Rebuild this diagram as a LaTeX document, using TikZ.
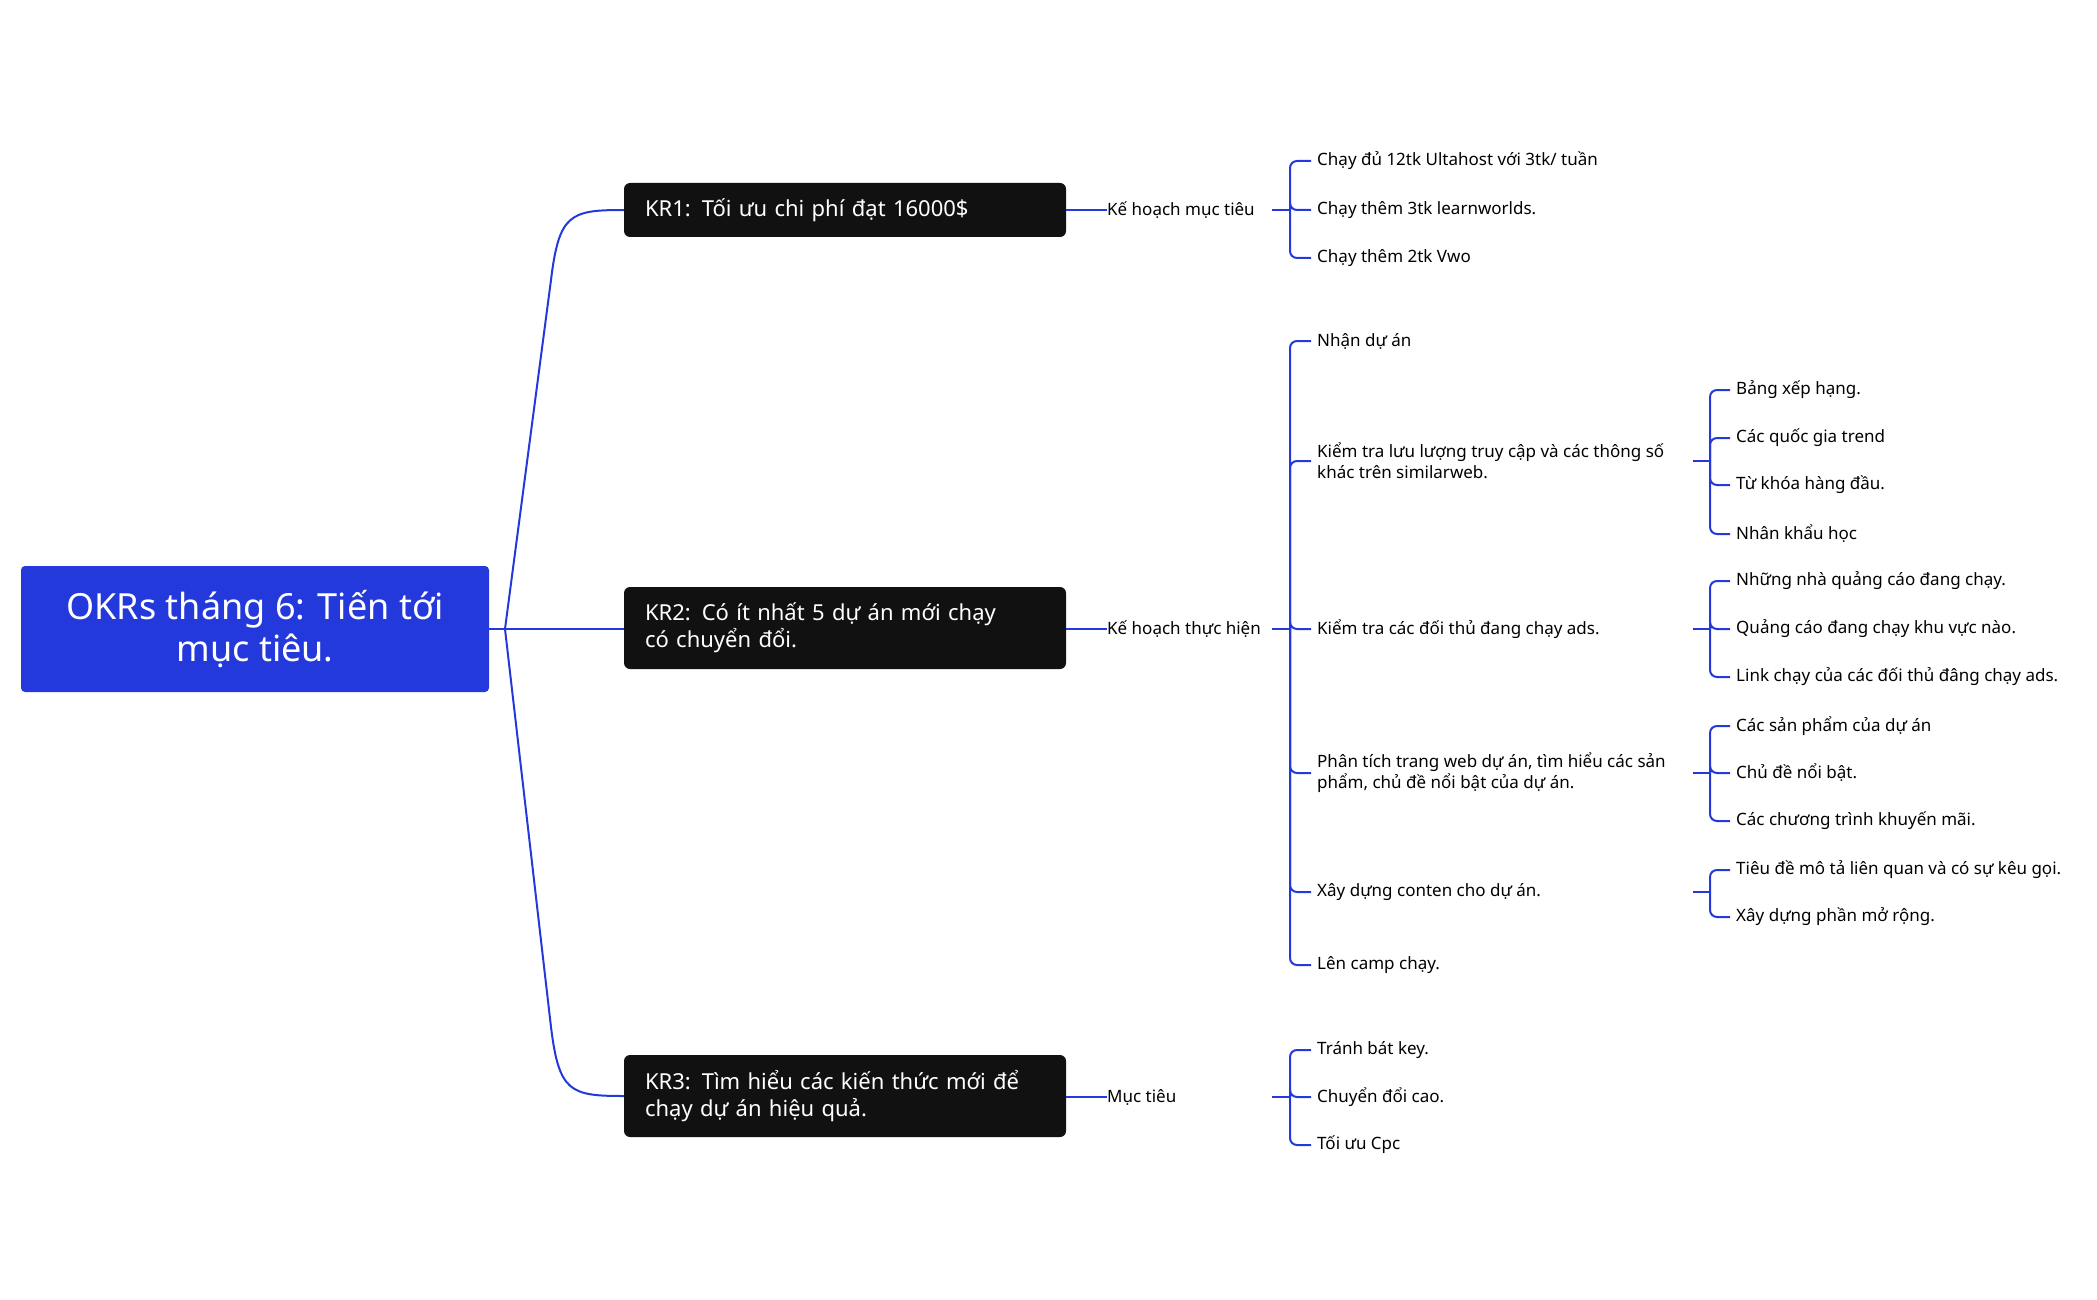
\documentclass[tikz,border=0pt]{standalone}
\usepackage{fontspec}
\setmainfont{Noto Sans}
\usepackage{tikz}
\usepackage{xcolor}
\definecolor{okblue}{HTML}{2439DB}
\definecolor{krblack}{HTML}{111111}

\begin{document}
\begin{tikzpicture}[x=1pt,y=-1pt,
            rootbox/.style={rectangle, fill=okblue, text=white, rounded corners=4pt, minimum width=468pt, minimum height=126pt, align=center, font=\fontsize{36}{42}\selectfont\bfseries},
            krbox/.style={rectangle, fill=krblack, text=white, rounded corners=6pt, text width=400pt, inner xsep=21pt, align=left, font=\fontsize{22}{27}\selectfont\bfseries},
            plan/.style={anchor=west, inner sep=0pt, font=\fontsize{17}{21}\selectfont},
            leaf/.style={anchor=west, inner sep=0pt, align=left, font=\fontsize{17}{21}\selectfont},
            link/.style={draw=okblue, line width=2pt},
            bracket/.style={link, rounded corners=7pt}
        ]
            \useasboundingbox (0,0) rectangle (2097,1300);

            % Root and key results
            \node[rootbox] (root) at (255,629) {OKRs tháng 6: Tiến tới\\mục tiêu.};
            \node[krbox, minimum height=54pt] (kr1) at (845,210) {KR1: Tối ưu chi phí đạt 16000\$};
            \node[krbox, minimum height=82pt] (kr2) at (845,628) {KR2: Có ít nhất 5 dự án mới chạy\\có chuyển đổi.};
            \node[krbox, minimum height=82pt] (kr3) at (845,1096) {KR3: Tìm hiểu các kiến thức mới để\\chạy dự án hiệu quả.};

            % Curved links from the root
            \coordinate (rhub) at (505,629);
            \draw[link] (root.east) -- (rhub);
            \draw[link] (rhub) -- (551,280) .. controls (559,214) and (570,210) .. (kr1.west);
            \draw[link] (rhub) -- (kr2.west |- rhub);
            \draw[link] (rhub) -- (551,1027) .. controls (559,1092) and (570,1096) .. (kr3.west);

            % Plan labels
            \node[plan] (p1) at (1107,210) {Kế hoạch mục tiêu};
            \node[plan] (p2) at (1107,629) {Kế hoạch thực hiện};
            \node[plan] (p3) at (1107,1097) {Mục tiêu};
            \draw[link] (kr1.east) -- (p1.west);
            \draw[link] (kr2.east |- p2) -- (p2.west);
            \draw[link] (kr3.east |- p3) -- (p3.west);

            % KR1 leaves
            \coordinate (hub1) at (1290,210);
            \draw[link] (1272,210) -- (hub1);
            \foreach \y/\t [count=\i] in {161/{Chạy đủ 12tk Ultahost với 3tk/ tuần}, 210/{Chạy thêm 3tk learnworlds.}, 258/{Chạy thêm 2tk Vwo}} {
                \node[leaf] (a\i) at (1317,\y) {\t};
                \draw[bracket] (hub1) |- ([xshift=-6pt]a\i.west);
            }

            % KR2 leaves
            \coordinate (hub2) at (1290,629);
            \draw[link] (1272,629) -- (hub2);
            \node[leaf] (b1) at (1317,341) {Nhận dự án};
            \node[leaf] (b2) at (1317,461) {Kiểm tra lưu lượng truy cập và các thông số\\khác trên similarweb.};
            \node[leaf] (b3) at (1317,629) {Kiểm tra các đối thủ đang chạy ads.};
            \node[leaf] (b4) at (1317,773) {Phân tích trang web dự án, tìm hiểu các sản\\phẩm, chủ đề nổi bật của dự án.};
            \node[leaf] (b5) at (1317,892) {Xây dựng conten cho dự án.};
            \node[leaf] (b6) at (1317,965) {Lên camp chạy.};
            \foreach \i in {1,...,6}
                \draw[bracket] (hub2) |- ([xshift=-6pt]b\i.west);

            % Sub leaves of KR2
            \coordinate (hubB2) at (1710,461);
            \draw[link] (1693,461) -- (hubB2);
            \foreach \y/\t [count=\i] in {390/{Bảng xếp hạng.}, 438/{Các quốc gia trend}, 485/{Từ khóa hàng đầu.}, 534/{Nhân khẩu học}} {
                \node[leaf] (c\i) at (1736,\y) {\t};
                \draw[bracket] (hubB2) |- ([xshift=-6pt]c\i.west);
            }
            \coordinate (hubB3) at (1710,629);
            \draw[link] (1693,629) -- (hubB3);
            \foreach \y/\t [count=\i] in {581/{Những nhà quảng cáo đang chạy.}, 629/{Quảng cáo đang chạy khu vực nào.}, 677/{Link chạy của các đối thủ đâng chạy ads.}} {
                \node[leaf] (d\i) at (1736,\y) {\t};
                \draw[bracket] (hubB3) |- ([xshift=-6pt]d\i.west);
            }
            \coordinate (hubB4) at (1710,773);
            \draw[link] (1693,773) -- (hubB4);
            \foreach \y/\t [count=\i] in {726/{Các sản phẩm của dự án}, 773/{Chủ đề nổi bật.}, 821/{Các chương trình khuyến mãi.}} {
                \node[leaf] (e\i) at (1736,\y) {\t};
                \draw[bracket] (hubB4) |- ([xshift=-6pt]e\i.west);
            }
            \coordinate (hubB5) at (1710,892);
            \draw[link] (1693,892) -- (hubB5);
            \foreach \y/\t [count=\i] in {870/{Tiêu đề mô tả liên quan và có sự kêu gọi.}, 917/{Xây dựng phần mở rộng.}} {
                \node[leaf] (f\i) at (1736,\y) {\t};
                \draw[bracket] (hubB5) |- ([xshift=-6pt]f\i.west);
            }

            % KR3 leaves
            \coordinate (hub3) at (1290,1097);
            \draw[link] (1272,1097) -- (hub3);
            \foreach \y/\t [count=\i] in {1050/{Tránh bát key.}, 1097/{Chuyển đổi cao.}, 1145/{Tối ưu Cpc}} {
                \node[leaf] (g\i) at (1317,\y) {\t};
                \draw[bracket] (hub3) |- ([xshift=-6pt]g\i.west);
            }
        \end{tikzpicture}
\end{document}
